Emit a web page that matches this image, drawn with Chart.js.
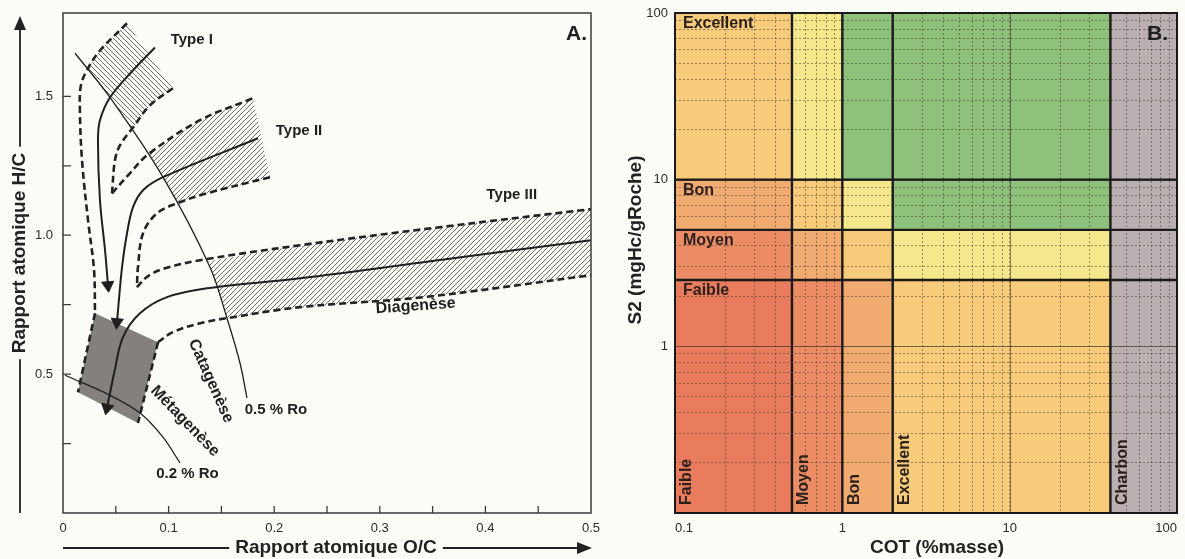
<!DOCTYPE html>
<html lang="fr">
<head>
<meta charset="utf-8">
<title>Diagramme de Van Krevelen / COT - S2</title>
<script src="https://cdn.jsdelivr.net/npm/chart.js@4.4.1/dist/chart.umd.min.js"></script>
<style>
  html, body { margin: 0; padding: 0; background: #fdfdf8; overflow: hidden; }
  #wrapA { position: absolute; left: 0; top: 0; width: 600px; height: 559px; }
  #wrapB { position: absolute; left: 600px; top: 0; width: 585px; height: 559px; }
</style>
</head>
<body>
<div id="wrapA"><canvas id="chartA" width="600" height="559"></canvas></div>
<div id="wrapB"><canvas id="chartB" width="585" height="559"></canvas></div>
<script>
const FONT = '"Liberation Sans", Arial, Helvetica, sans-serif';
const INK = '#1f1f1f';

// ---------- Panel A : rapport atomique H/C en fonction de O/C ----------
// each curve is a list of [O/C, H/C] pairs
const typeI_line   = [[0.0871,1.676],[0.0663,1.594],[0.0445,1.496],[0.035,1.414],[0.0331,1.342],[0.035,1.126],[0.0398,0.946],[0.0426,0.820]];
const typeI_upper  = [[0.0606,1.763],[0.035,1.665],[0.0237,1.601],[0.017,1.540],[0.016,1.450],[0.018,1.270],[0.0237,1.054],[0.0294,0.874],[0.0303,0.719]];
const typeI_lower  = [[0.104,1.529],[0.0824,1.468],[0.0663,1.388],[0.054,1.324],[0.0492,1.270],[0.0464,1.151]];
const typeII_line  = [[0.1847,1.349],[0.0947,1.209],[0.0758,1.162],[0.0663,1.101],[0.0606,1.007],[0.0559,0.885],[0.0511,0.687]];
const typeII_upper = [[0.0464,1.151],[0.0634,1.223],[0.0805,1.291],[0.1297,1.414],[0.1799,1.493]];
const typeII_lower = [[0.196,1.209],[0.1364,1.151],[0.108,1.115],[0.089,1.079],[0.0758,1.007],[0.071,0.885],[0.070,0.813]];
const typeIII_line  = [[0.5,0.982],[0.357,0.911],[0.2244,0.845],[0.1364,0.809],[0.0985,0.777],[0.0729,0.719],[0.0568,0.633],[0.049,0.514],[0.0417,0.378]];
const typeIII_upper = [[0.070,0.813],[0.0805,0.853],[0.0966,0.881],[0.1297,0.910],[0.2244,0.964],[0.357,1.029],[0.5,1.094]];
const typeIII_lower = [[0.090,0.615],[0.104,0.651],[0.1297,0.683],[0.161,0.705],[0.2244,0.741],[0.341,0.777],[0.5,0.856]];
const ro05 = [[0.0114,1.655],[0.0445,1.496],[0.0947,1.209],[0.1392,0.885],[0.1553,0.701],[0.1676,0.540],[0.1742,0.414]];
const ro02 = [[0.0019,0.496],[0.0445,0.424],[0.0729,0.360],[0.0947,0.273],[0.1108,0.180]];
const metaBox = [[0.0303,0.719],[0.090,0.615],[0.071,0.324],[0.0142,0.435]];
const hatchI   = [[0.0237,1.601],[0.035,1.665],[0.0606,1.763],[0.104,1.529],[0.0824,1.468],[0.0655,1.383],[0.0445,1.496]];
const hatchII  = [[0.0805,1.291],[0.1297,1.414],[0.1799,1.493],[0.196,1.209],[0.1364,1.151],[0.108,1.115],[0.0947,1.209]];
const hatchIII = [[0.137,0.905],[0.2244,0.964],[0.357,1.029],[0.5,1.094],[0.5,0.856],[0.341,0.777],[0.2244,0.741],[0.161,0.705],[0.1553,0.701],[0.1392,0.885]];
const xTitleA = 'Rapport atomique O/C';
const yTitleA = 'Rapport atomique H/C';

// ---------- Panel B : S2 en fonction du COT ----------
const cotEdges = [0.1, 0.5, 1, 2, 40, 100];
const s2Edges = [0.1, 2.5, 5, 10, 100];
const cotClasses = ['Faible', 'Moyen', 'Bon', 'Excellent', 'Charbon'];
const s2Classes = ['Faible', 'Moyen', 'Bon', 'Excellent'];
const cotTickLabels = [0.1, 1, 10, 100];
const s2TickLabels = [1, 10, 100];
const xTitleB = 'COT (%masse)';
const yTitleB = 'S2 (mgHc/gRoche)';

// cell colours, rows bottom -> top (S2 class), columns left -> right (COT class)
const cellColors = [
  ['#e97c5c', '#ec8c64', '#f1aa6f', '#f8cb7b', '#bab0b2'],
  ['#ec8c64', '#f1aa6f', '#f8cb7b', '#f5e78b', '#bab0b2'],
  ['#f1aa6f', '#f8cb7b', '#f5e78b', '#8ec27c', '#bab0b2'],
  ['#f8cb7b', '#f5e78b', '#8ec27c', '#8ec27c', '#bab0b2']
];

// text notes placed in data units on panel A
const notesA = [
  { text: 'Type I', x: 0.122, y: 1.705, rot: 0, size: 15 },
  { text: 'Type II', x: 0.2235, y: 1.374, rot: 0, size: 15 },
  { text: 'Type III', x: 0.425, y: 1.144, rot: 0, size: 15 },
  { text: 'Diagenèse', x: 0.334, y: 0.745, rot: -4, size: 16 },
  { text: 'Catagenèse', x: 0.140, y: 0.475, rot: 66, size: 16 },
  { text: 'Métagenèse', x: 0.1155, y: 0.331, rot: 46, size: 16 },
  { text: '0.5 % Ro', x: 0.2017, y: 0.3705, rot: 0, size: 15 },
  { text: '0.2 % Ro', x: 0.1179, y: 0.140, rot: 0, size: 15 }
];

Chart.defaults.font.family = FONT;
Chart.defaults.color = '#2b2b2b';

const pts = arr => arr.map(([x, y]) => ({ x, y }));

function hatch(rising) {
  const s = 5;
  const c = document.createElement('canvas');
  c.width = s; c.height = s;
  const g = c.getContext('2d');
  g.strokeStyle = '#5a5a5a';
  g.lineWidth = 0.9;
  g.beginPath();
  if (rising) {
    g.moveTo(0, s); g.lineTo(s, 0);
    g.moveTo(-1, 1); g.lineTo(1, -1);
    g.moveTo(s - 1, s + 1); g.lineTo(s + 1, s - 1);
  } else {
    g.moveTo(0, 0); g.lineTo(s, s);
    g.moveTo(-1, s - 1); g.lineTo(1, s + 1);
    g.moveTo(s - 1, -1); g.lineTo(s + 1, 1);
  }
  g.stroke();
  return g.createPattern(c, 'repeat');
}

// arrow head at the end of a curve, turned along its last segment
function isLast(c) {
  return c.dataIndex !== undefined && c.dataIndex === c.dataset.data.length - 1;
}
function arrowRotation(c) {
  if (!isLast(c)) return 0;
  const d = c.dataset.data, n = d.length;
  const sx = c.chart.scales.x, sy = c.chart.scales.y;
  const dx = sx.getPixelForValue(d[n - 1].x) - sx.getPixelForValue(d[n - 2].x);
  const dy = sy.getPixelForValue(d[n - 1].y) - sy.getPixelForValue(d[n - 2].y);
  return Math.atan2(dx, -dy) * 180 / Math.PI;
}

function curve(data, extra) {
  return Object.assign({
    data: pts(data),
    borderColor: INK,
    borderWidth: 2,
    tension: 0.35,
    pointRadius: 0,
    fill: false,
    order: 0
  }, extra);
}
const DASH = { borderDash: [7, 4], borderWidth: 2.6, borderColor: '#222' };
const ARROW = {
  pointRadius: c => (isLast(c) ? 7 : 0),
  pointStyle: 'triangle',
  pointRotation: arrowRotation,
  pointBackgroundColor: INK,
  pointBorderColor: INK,
  pointBorderWidth: 1
};
function area(data, color) {
  return {
    data: pts(data),
    fill: 'shape',
    backgroundColor: color,
    borderColor: 'transparent',
    borderWidth: 0,
    pointRadius: 0,
    tension: 0,
    order: 5
  };
}

const fixBox = size => scale => {
  Object.assign(scale, size);
  scale.paddingLeft = scale.paddingRight = scale.paddingTop = scale.paddingBottom = 0;
};

const isMultiple = (v, step) => Math.abs(v / step - Math.round(v / step)) < 1e-6;

function arrowHead(ctx, tipX, tipY, dirX, dirY, len, half) {
  ctx.beginPath();
  ctx.moveTo(tipX, tipY);
  ctx.lineTo(tipX - dirX * len - dirY * half, tipY - dirY * len + dirX * half);
  ctx.lineTo(tipX - dirX * len + dirY * half, tipY - dirY * len - dirX * half);
  ctx.closePath();
  ctx.fill();
}

const panelA = {
  id: 'panelA',
  afterDraw(chart) {
    const { ctx, chartArea: ca, scales: { x, y } } = chart;
    ctx.save();
    ctx.strokeStyle = '#3a3a3a';
    ctx.lineWidth = 1.5;
    ctx.strokeRect(ca.left, ca.top, ca.right - ca.left, ca.bottom - ca.top);

    // inward tick marks
    ctx.lineWidth = 1.3;
    ctx.beginPath();
    x.ticks.forEach(t => {
      if (t.value > x.min && t.value < x.max) {
        const p = x.getPixelForValue(t.value);
        ctx.moveTo(p, ca.bottom); ctx.lineTo(p, ca.bottom - 7);
      }
    });
    y.ticks.forEach(t => {
      if (t.value > y.min && t.value <= 1.5 + 1e-9) {
        const p = y.getPixelForValue(t.value);
        ctx.moveTo(ca.left, p); ctx.lineTo(ca.left + 8, p);
      }
    });
    ctx.stroke();

    // notes
    ctx.fillStyle = INK;
    notesA.forEach(n => {
      ctx.save();
      ctx.translate(x.getPixelForValue(n.x), y.getPixelForValue(n.y));
      ctx.rotate(n.rot * Math.PI / 180);
      ctx.font = 'bold ' + n.size + 'px ' + FONT;
      ctx.textAlign = 'center';
      ctx.textBaseline = 'middle';
      ctx.fillText(n.text, 0, 0);
      ctx.restore();
    });

    // panel letter
    ctx.font = 'bold 21px ' + FONT;
    ctx.textAlign = 'right';
    ctx.textBaseline = 'alphabetic';
    ctx.fillText('A.', ca.right - 4, ca.top + 27);

    // axis titles with arrows
    ctx.font = 'bold 19px ' + FONT;
    ctx.textAlign = 'center';
    ctx.textBaseline = 'middle';
    ctx.strokeStyle = '#222';
    ctx.fillStyle = '#222';
    ctx.lineWidth = 1.8;

    const bx = (ca.left + ca.right) / 2 + 9, by = 548;
    const bw = ctx.measureText(xTitleA).width;
    ctx.fillText(xTitleA, bx, by);
    ctx.beginPath();
    ctx.moveTo(ca.left, by); ctx.lineTo(bx - bw / 2 - 6, by);
    ctx.moveTo(bx + bw / 2 + 6, by); ctx.lineTo(ca.right - 12, by);
    ctx.stroke();
    arrowHead(ctx, ca.right + 1, by, 1, 0, 15, 6);

    const lx = 20, ly = 253;
    const lw = ctx.measureText(yTitleA).width;
    ctx.save();
    ctx.translate(lx, ly);
    ctx.rotate(-Math.PI / 2);
    ctx.fillText(yTitleA, 0, 0);
    ctx.restore();
    ctx.beginPath();
    ctx.moveTo(lx, ca.bottom); ctx.lineTo(lx, ly + lw / 2 + 6);
    ctx.moveTo(lx, ly - lw / 2 - 6); ctx.lineTo(lx, ca.top + 14);
    ctx.stroke();
    arrowHead(ctx, lx, ca.top + 3, 0, -1, 14, 6);
    ctx.restore();
  }
};

new Chart(document.getElementById('chartA'), {
  type: 'line',
  data: {
    datasets: [
      curve(typeI_line, ARROW),
      curve(typeII_line, ARROW),
      curve(typeIII_line, ARROW),
      curve(typeI_upper, DASH),
      curve(typeI_lower, DASH),
      curve(typeII_upper, DASH),
      curve(typeII_lower, DASH),
      curve(typeIII_upper, DASH),
      curve(typeIII_lower, DASH),
      curve([metaBox[0], metaBox[3]], Object.assign({}, DASH, { tension: 0 })),
      curve([metaBox[1], metaBox[2]], Object.assign({}, DASH, { tension: 0 })),
      curve(ro05, { borderWidth: 1.3 }),
      curve(ro02, { borderWidth: 1.3 }),
      area(metaBox, '#85807b'),
      area(hatchI, hatch(false)),
      area(hatchII, hatch(true)),
      area(hatchIII, hatch(true))
    ]
  },
  options: {
    responsive: false,
    animation: false,
    events: [],
    layout: { padding: { left: 0, top: 13, right: 9, bottom: 0 } },
    plugins: { legend: { display: false }, tooltip: { enabled: false } },
    scales: {
      x: {
        type: 'linear', min: 0, max: 0.5,
        grid: { display: false, drawTicks: false },
        border: { display: false },
        ticks: {
          stepSize: 0.05, autoSkip: false, maxRotation: 0, padding: 8,
          font: { size: 13 },
          callback: v => (isMultiple(v, 0.1) ? (Math.abs(v) < 1e-9 ? '0' : v.toFixed(1)) : '')
        },
        afterFit: fixBox({ height: 46 })
      },
      y: {
        type: 'linear', min: 0, max: 1.8,
        grid: { display: false, drawTicks: false },
        border: { display: false },
        ticks: {
          stepSize: 0.25, autoSkip: false, padding: 10,
          font: { size: 13 },
          callback: v => (v > 0 && v <= 1.5 + 1e-9 && isMultiple(v, 0.5) ? v.toFixed(1) : '')
        },
        afterFit: fixBox({ width: 63 })
      }
    }
  },
  plugins: [panelA]
});

// ---------- Panel B ----------
function logTicks(scale) {
  const out = [];
  for (let e = -1; e < 2; e++) {
    for (let m = 1; m < 10; m++) out.push({ value: Number((m * Math.pow(10, e)).toPrecision(3)) });
  }
  out.push({ value: 100 });
  scale.ticks = out.filter(t => t.value >= scale.min - 1e-9 && t.value <= scale.max + 1e-9);
}
const isDecade = v => Math.abs(Math.log10(v) - Math.round(Math.log10(v))) < 1e-9;

const cellSets = [];
s2Classes.forEach((_, r) => {
  cotClasses.forEach((__, c) => {
    const x0 = cotEdges[c], x1 = cotEdges[c + 1], y0 = s2Edges[r], y1 = s2Edges[r + 1];
    cellSets.push(area([[x0, y0], [x1, y0], [x1, y1], [x0, y1]], cellColors[r][c]));
  });
});

const panelB = {
  id: 'panelB',
  afterDraw(chart) {
    const { ctx, chartArea: ca, scales: { x, y } } = chart;
    ctx.save();
    // decade lines, solid
    ctx.strokeStyle = 'rgba(60,50,40,0.6)';
    ctx.lineWidth = 1;
    ctx.beginPath();
    x.ticks.forEach(t => {
      if (isDecade(t.value) && t.value > x.min && t.value < x.max) {
        const p = Math.round(x.getPixelForValue(t.value)) + 0.5;
        ctx.moveTo(p, ca.top); ctx.lineTo(p, ca.bottom);
      }
    });
    y.ticks.forEach(t => {
      if (isDecade(t.value) && t.value > y.min && t.value < y.max) {
        const p = Math.round(y.getPixelForValue(t.value)) + 0.5;
        ctx.moveTo(ca.left, p); ctx.lineTo(ca.right, p);
      }
    });
    ctx.stroke();

    // class limits
    ctx.strokeStyle = '#1a1a1a';
    ctx.lineWidth = 2.4;
    ctx.beginPath();
    cotEdges.slice(1, -1).forEach(v => {
      const p = x.getPixelForValue(v);
      ctx.moveTo(p, ca.top); ctx.lineTo(p, ca.bottom);
    });
    s2Edges.slice(1, -1).forEach(v => {
      const p = y.getPixelForValue(v);
      ctx.moveTo(ca.left, p); ctx.lineTo(ca.right, p);
    });
    ctx.stroke();
    ctx.lineWidth = 2;
    ctx.strokeRect(ca.left, ca.top, ca.right - ca.left, ca.bottom - ca.top);

    // class names
    ctx.fillStyle = '#2a211d';
    ctx.font = 'bold 16px ' + FONT;
    ctx.textAlign = 'left';
    ctx.textBaseline = 'top';
    s2Classes.forEach((lab, i) => {
      ctx.fillText(lab, ca.left + 8, y.getPixelForValue(s2Edges[i + 1]) + 3);
    });
    ctx.textBaseline = 'middle';
    cotClasses.forEach((lab, i) => {
      ctx.save();
      ctx.translate(x.getPixelForValue(cotEdges[i]) + 12, ca.bottom - 8);
      ctx.rotate(-Math.PI / 2);
      ctx.fillText(lab, 0, 0);
      ctx.restore();
    });

    // panel letter
    ctx.fillStyle = INK;
    ctx.font = 'bold 21px ' + FONT;
    ctx.textAlign = 'right';
    ctx.textBaseline = 'alphabetic';
    ctx.fillText('B.', ca.right - 9, ca.top + 27);

    // axis titles
    ctx.fillStyle = '#222';
    ctx.font = 'bold 19px ' + FONT;
    ctx.textAlign = 'center';
    ctx.textBaseline = 'middle';
    ctx.fillText(xTitleB, (ca.left + ca.right) / 2 + 11, 548);
    ctx.save();
    ctx.translate(ca.left - 39, 240);
    ctx.rotate(-Math.PI / 2);
    ctx.fillText(yTitleB, 0, 0);
    ctx.restore();
    ctx.restore();
  }
};

new Chart(document.getElementById('chartB'), {
  type: 'line',
  data: { datasets: cellSets },
  options: {
    responsive: false,
    animation: false,
    events: [],
    layout: { padding: { left: 0, top: 13, right: 8, bottom: 0 } },
    plugins: { legend: { display: false }, tooltip: { enabled: false } },
    scales: {
      x: {
        type: 'logarithmic', min: 0.1, max: 100,
        afterBuildTicks: logTicks,
        grid: { color: 'rgba(70,60,50,0.55)', lineWidth: 1, drawTicks: false, z: 1 },
        border: { display: false, dash: [2, 2] },
        ticks: {
          autoSkip: false, maxRotation: 0, padding: 8, align: 'inner',
          font: { size: 13 },
          callback: v => (cotTickLabels.some(t => Math.abs(t - v) < 1e-9) ? String(v) : '')
        },
        afterFit: fixBox({ height: 46 })
      },
      y: {
        type: 'logarithmic', min: 0.1, max: 100,
        afterBuildTicks: logTicks,
        grid: { color: 'rgba(70,60,50,0.55)', lineWidth: 1, drawTicks: false, z: 1 },
        border: { display: false, dash: [2, 2] },
        ticks: {
          autoSkip: false, padding: 7,
          font: { size: 13 },
          callback: v => (s2TickLabels.some(t => Math.abs(t - v) < 1e-9) ? String(v) : '')
        },
        afterFit: fixBox({ width: 75 })
      }
    }
  },
  plugins: [panelB]
});
</script>
</body>
</html>
